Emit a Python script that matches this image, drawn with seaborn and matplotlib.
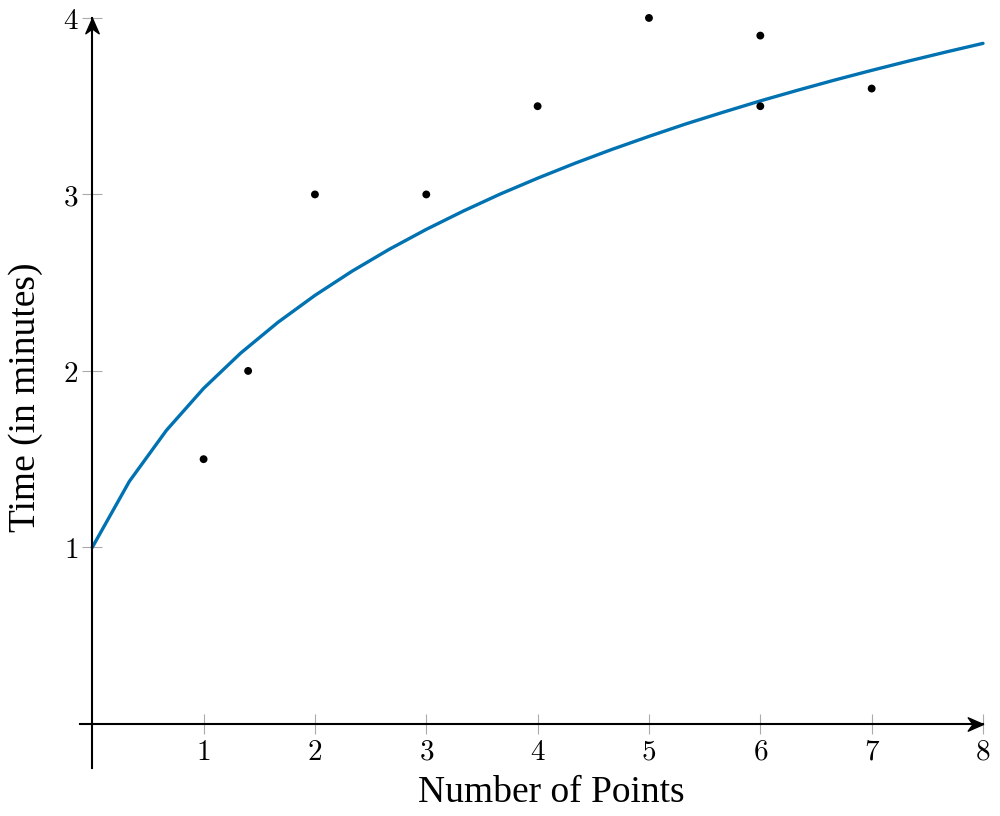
import numpy as np
import pandas as pd
import matplotlib
matplotlib.use("Agg")
import matplotlib.pyplot as plt
from matplotlib.path import Path
import seaborn as sns

sns.set_style("white")
plt.rcParams['mathtext.fontset'] = 'cm'
plt.rcParams['text.color'] = 'black'
plt.rcParams['xtick.labelcolor'] = 'black'
plt.rcParams['ytick.labelcolor'] = 'black'

# curve (x every 1/3)
curve_x = [0, 0.333, 0.667, 1, 1.333, 1.667, 2, 2.333, 2.667, 3, 3.333, 3.667,
           4, 4.333, 4.667, 5, 5.333, 5.667, 6, 6.333, 6.667, 7, 7.333, 7.667, 8]
curve_y = [1.0, 1.374, 1.664, 1.901, 2.101, 2.275, 2.428, 2.565, 2.689, 2.802, 2.906, 3.003,
           3.092, 3.176, 3.255, 3.329, 3.4, 3.466, 3.53, 3.59, 3.648, 3.703, 3.756, 3.807, 3.856]

pts_x = [1, 1.4, 2, 3, 4, 5, 6, 6, 7]
pts_y = [1.5, 2, 3, 3, 3.5, 4, 3.9, 3.5, 3.6]

x_ticks = [1, 2, 3, 4, 5, 6, 7, 8]
y_ticks = [1, 2, 3, 4]

fig = plt.figure(figsize=(10, 8.16), dpi=100)
ax = fig.add_axes([0.080, 0.0588, 0.903, 0.9192])

sns.lineplot(x=curve_x, y=curve_y, ax=ax, color='#0072B2', linewidth=2.4, clip_on=False)
sns.scatterplot(x=pts_x, y=pts_y, ax=ax, color='black', s=32, edgecolor='none', clip_on=False, zorder=5)

ax.set_xlim(-0.11, 8.0)
ax.set_ylim(-0.25, 4.0)

for s in ['top', 'right']:
    ax.spines[s].set_visible(False)
ax.spines['bottom'].set_position(('data', 0))
ax.spines['left'].set_position(('data', 0))
for s in ['bottom', 'left']:
    ax.spines[s].set_color('black')
    ax.spines[s].set_linewidth(1.5)

# stealth-like arrow heads, tip at the marker origin
right_head = Path([(0, 0), (-1.6, 0.7), (-1.1, 0), (-1.6, -0.7), (0, 0)],
                  [Path.MOVETO, Path.LINETO, Path.LINETO, Path.LINETO, Path.CLOSEPOLY])
up_head = Path([(0, 0), (0.7, -1.6), (0, -1.1), (-0.7, -1.6), (0, 0)],
               [Path.MOVETO, Path.LINETO, Path.LINETO, Path.LINETO, Path.CLOSEPOLY])
ax.plot([8.0], [0], marker=right_head, markersize=22, color='black', clip_on=False, zorder=6)
ax.plot([0], [4.0], marker=up_head, markersize=22, color='black', clip_on=False, zorder=6)

ax.set_xticks(x_ticks)
ax.set_yticks(y_ticks)
ax.set_xticklabels([f'${t}$' for t in x_ticks])
ax.set_yticklabels([f'${t}$' for t in y_ticks])
ax.tick_params(axis='both', bottom=True, left=True, direction='inout', length=14, width=0.8,
               color='#aaaaaa', labelsize=21, labelcolor='black')
ax.tick_params(axis='x', pad=3)
ax.tick_params(axis='y', pad=3)

ax.set_xlabel('')
ax.set_ylabel('')
fig.text(0.551, 0.028, 'Number of Points', family='Liberation Serif', fontsize=27,
         ha='center', va='center', color='black')
fig.text(0.026, 0.513, 'Time (in minutes)', family='Liberation Serif', fontsize=27,
         ha='center', va='center', rotation=90, color='black')

fig.savefig('out.png', dpi=100)
